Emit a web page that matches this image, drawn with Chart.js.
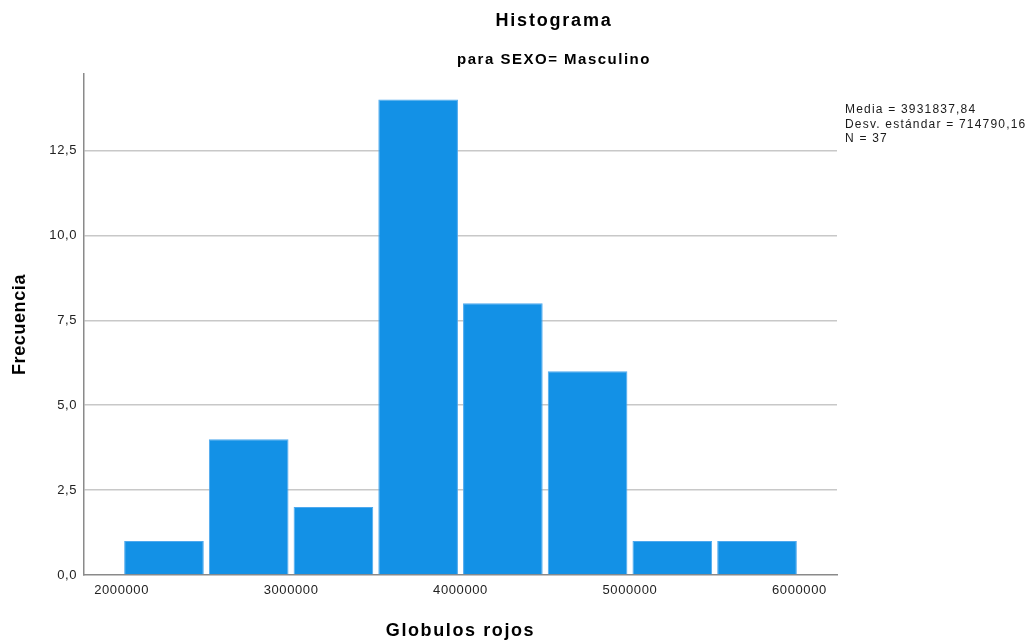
<!DOCTYPE html>
<html>
<head>
<meta charset="utf8">
<title>Histograma</title>
<script src="https://cdn.jsdelivr.net/npm/chart.js@4.4.1/dist/chart.umd.min.js"></script>
<style>
  body { margin: 0; background: #fff; }
  #wrap { width: 1033px; height: 644px; }
</style>
</head>
<body>
<div id="wrap"><canvas id="hist" width="1033" height="644"></canvas></div>
<script>
var binCenters = [2250000, 2750000, 3250000, 3750000, 4250000, 4750000, 5250000, 5750000];
var frequencies = [1, 4, 2, 14, 8, 6, 1, 1];
var xTicks = [2000000, 3000000, 4000000, 5000000, 6000000];
var yTicks = [0, 2.5, 5, 7.5, 10, 12.5];
var statsLines = ['Media = 3931837,84', 'Desv. estándar = 714790,16', 'N = 37'];
var titleText = 'Histograma';
var subtitleText = 'para SEXO= Masculino';
var xTitleText = 'Globulos rojos';

var FONT = "'Liberation Sans', Arial, sans-serif";

var points = binCenters.map(function (c, i) { return { x: c, y: frequencies[i] }; });

// el texto del original sale algo mas espaciado
var spacingPlugin = {
  id: 'espaciado',
  beforeDraw: function (chart) { chart.ctx.letterSpacing = '0.6px'; }
};

// titulos y estadisticos
var textPlugin = {
  id: 'textos',
  afterDraw: function (chart) {
    var c = chart.ctx;
    var area = chart.chartArea;
    c.save();
    c.fillStyle = '#000';
    c.textAlign = 'center';
    c.textBaseline = 'middle';
    c.letterSpacing = '1.8px';
    c.font = 'bold 18px ' + FONT;
    c.fillText(titleText, 554, 21);
    c.letterSpacing = '1.5px';
    c.font = 'bold 15px ' + FONT;
    c.fillText(subtitleText, 554, 60);
    c.letterSpacing = '1.6px';
    c.font = 'bold 18px ' + FONT;
    c.fillText(xTitleText, (area.left + area.right) / 2, 631);
    c.textAlign = 'left';
    c.letterSpacing = '1.2px';
    c.font = '12px ' + FONT;
    c.fillStyle = '#1a1a1a';
    statsLines.forEach(function (t, i) {
      c.fillText(t, 845, 110 + i * 14.5);
    });
    c.restore();
  }
};

const ctx = document.getElementById('hist').getContext('2d');
const chart = new Chart(ctx, {
  type: 'bar',
  data: {
    datasets: [{
      data: points,
      backgroundColor: '#1391e6',
      borderColor: '#4ea9ee',
      borderWidth: 1,
      barPercentage: 0.94,
      categoryPercentage: 1
    }]
  },
  plugins: [spacingPlugin, textPlugin],
  options: {
    responsive: false,
    animation: false,
    layout: { padding: { top: 74, right: 196, left: 0, bottom: 0 } },
    plugins: {
      legend: { display: false },
      title: { display: false },
      tooltip: { enabled: false }
    },
    scales: {
      x: {
        type: 'linear',
        min: 1778000,
        max: 6222000,
        offset: false,
        afterBuildTicks: function (s) { s.ticks = xTicks.map(function (v) { return { value: v }; }); },
        afterFit: function (s) { s.height = 69; },
        grid: { display: false, drawTicks: false },
        border: { color: '#8a8a8a', width: 1.5 },
        ticks: {
          padding: 8,
          color: '#222',
          font: { family: FONT, size: 13 },
          maxRotation: 0,
          callback: function (v) { return String(v); }
        },
        title: { display: false }
      },
      y: {
        min: 0,
        max: 14.75,
        afterBuildTicks: function (s) { s.ticks = yTicks.map(function (v) { return { value: v }; }); },
        afterFit: function (s) { s.width = 84; },
        grid: {
          drawTicks: false,
          lineWidth: 1.5,
          color: function (c) { return c.tick && c.tick.value === 0 ? 'rgba(0,0,0,0)' : '#c8c8c8'; }
        },
        border: { color: '#8a8a8a', width: 1.5 },
        ticks: {
          padding: 7,
          color: '#222',
          font: { family: FONT, size: 13 },
          callback: function (v) { return v.toFixed(1).replace('.', ','); }
        },
        title: {
          display: true,
          text: 'Frecuencia',
          color: '#000',
          font: { family: FONT, size: 18, weight: 'bold' },
          padding: { top: 9, bottom: 0 }
        }
      }
    }
  }
});
</script>
</body>
</html>
